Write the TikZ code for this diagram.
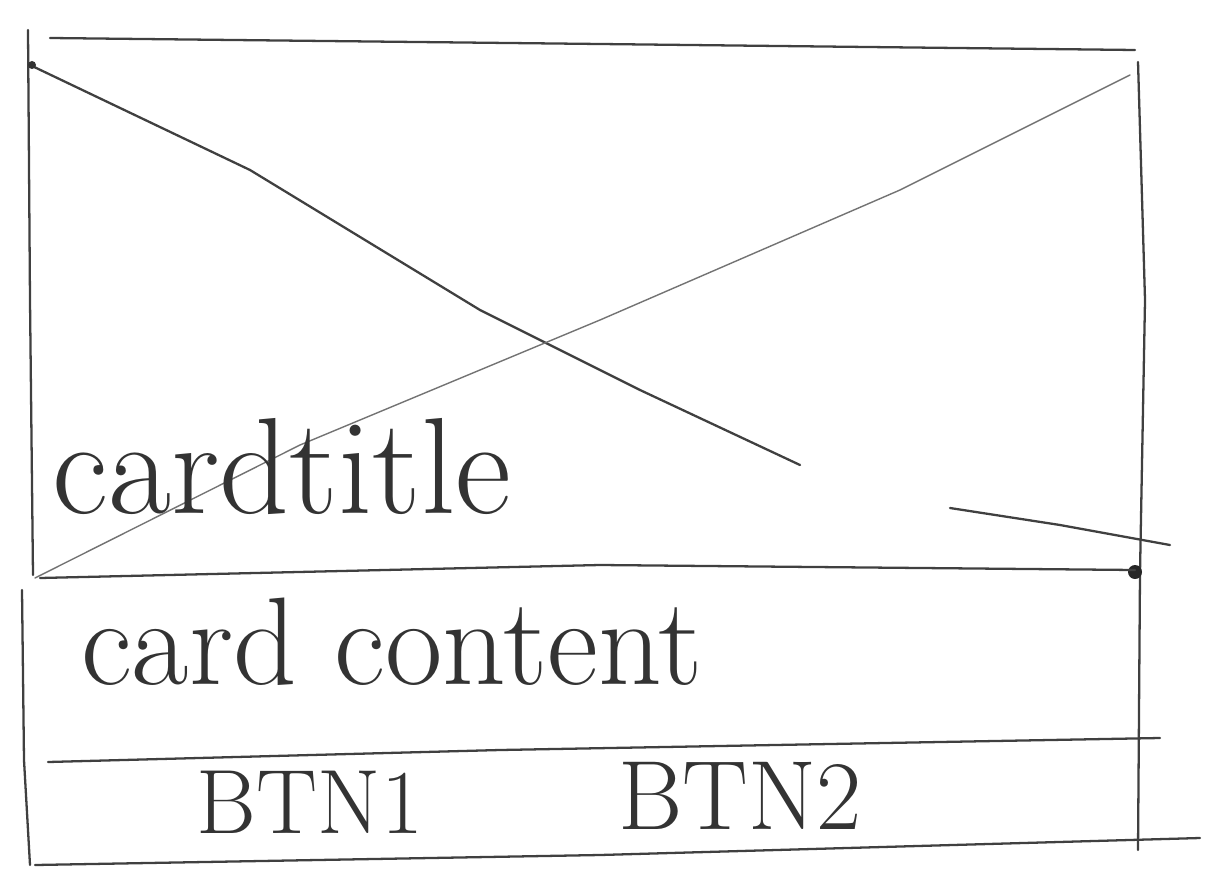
\documentclass[tikz,border=0pt]{standalone}
\begin{document}
\begin{tikzpicture}[x=0.02cm,y=-0.02cm,
  pen/.style={line width=1.3pt,color=black!75,line join=round,line cap=round},
  faint/.style={line width=0.8pt,color=black!55,line cap=round},
  hand/.style={inner sep=0pt,color=black!80}]
\useasboundingbox (0,0) rectangle (1219,895);
% frame
\draw[pen] (28,30) -- (30,300) -- (33,575);
\draw[pen] (50,38) -- (600,44) -- (1135,50);
\draw[pen] (1138,62) -- (1145,300) -- (1140,572) -- (1138,850);
\draw[pen] (22,590) -- (24,760) -- (30,865);
\draw[pen] (35,865) -- (600,855) -- (1200,838);
% image placeholder
\draw[pen] (30,65) -- (250,170) -- (480,310) -- (640,390) -- (800,465);
\draw[pen] (950,508) -- (1060,525) -- (1170,545);
\draw[faint] (35,578) -- (300,445) -- (600,320) -- (900,190) -- (1130,75);
\fill[black!80] (32,65) circle (4);
\fill[black!85] (1135,572) circle (7);
% sections
\draw[pen] (40,578) -- (600,565) -- (1135,570);
\draw[pen] (48,762) -- (500,750) -- (1160,738);
% labels
\node[hand,font=\fontsize{78}{78}\selectfont] (title) at (282,466) {cardtitle};
\node[hand,font=\fontsize{71}{71}\selectfont] (content) at (392,642) {card content};
\node[hand,font=\fontsize{52}{52}\selectfont] (btnA) at (310,802) {BTN1};
\node[hand,font=\fontsize{56}{56}\selectfont] (btnB) at (740,796) {BTN2};
\end{tikzpicture}
\end{document}
